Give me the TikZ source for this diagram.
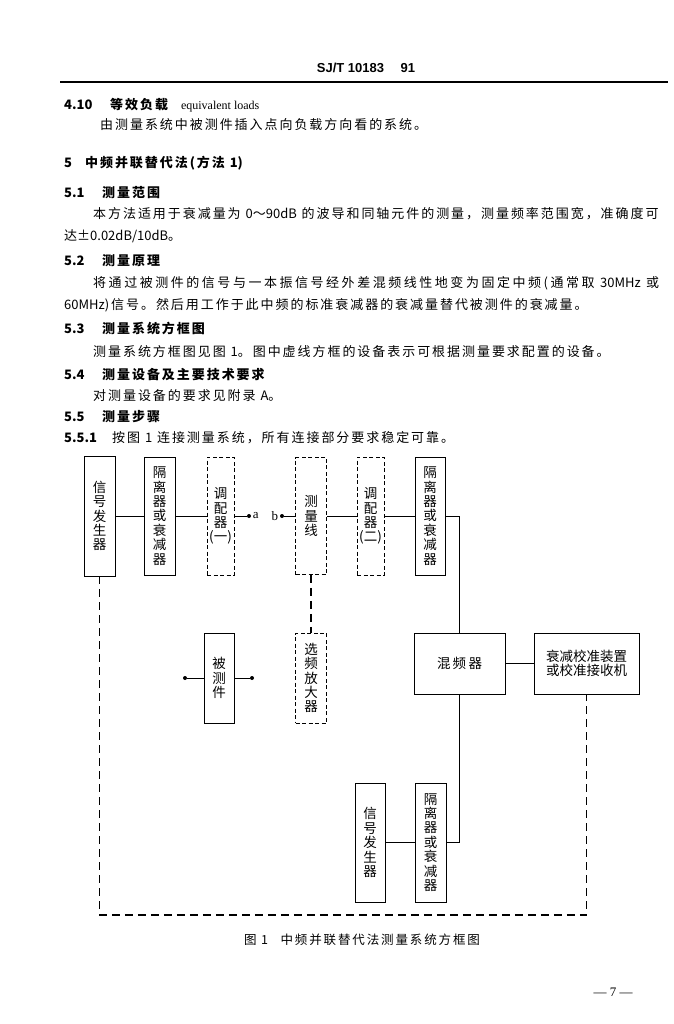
\documentclass[tikz,border=0pt]{standalone}
\usepackage{fontspec}
\setmainfont{Liberation Serif}
\newfontfamily\hei[LetterSpace=15]{Noto Sans CJK SC}
\newfontfamily\heiwide[LetterSpace=19.5]{Noto Sans CJK SC}
\newfontfamily\boxfont{Noto Sans CJK SC}
\newfontfamily\hdfont{Liberation Sans}
\newcommand\lat[1]{{\boxfont #1}}
\usetikzlibrary{positioning,calc}

\tikzset{
  box/.style={draw,line width=0.8pt,inner sep=0pt,align=center,
    font=\boxfont\fontsize{13.5}{14.4}\selectfont},
  optbox/.style={box,dash pattern=on 4pt off 2.5pt},
  link/.style={line width=0.8pt},
  optlink/.style={line width=1.1pt,dash pattern=on 8pt off 5pt},
  port/.style={circle,fill=black,inner sep=0pt,minimum size=4pt},
  txtline/.style={anchor=west,inner sep=0pt,font=\hei\fontsize{13}{15}\selectfont},
  headline/.style={txtline,font=\hei\bfseries\fontsize{13}{15}\selectfont}
}

\begin{document}
\begin{tikzpicture}[x=1pt,y=-1pt]
\useasboundingbox (0,0) rectangle (673,1024);

% page head
\node[font=\hdfont\bfseries\fontsize{13}{15}\selectfont] (hdr) at (366,68) {SJ/T 10183\quad\ 91};
\draw[line width=1.2pt] (60,82) -- (668,82);

% text
\node[headline] (n410) at (64,105) {\lat{4.10}};
\node[headline] (h410) at (110,105) {等效负载\quad{\rmfamily\mdseries\fontsize{12}{14}\selectfont equivalent loads}};
\node[txtline] (p410) at (100,125) {由测量系统中被测件插入点向负载方向看的系统。};
\node[headline] (n5) at (64,163) {\lat{5}\quad 中频并联替代法(方法 \lat{1})};
\node[headline] (n51) at (64,193) {\lat{5.1}};
\node[headline] (h51) at (102,193) {测量范围};
\node[txtline] (p51a) at (93,214) {本方法适用于衰减量为 \lat{0～90dB} 的波导和同轴元件的测量，测量频率范围宽，准确度可};
\node[txtline] (p51b) at (64,236) {达\lat{±0.02dB/10dB}。};
\node[headline] (n52) at (64,261) {\lat{5.2}};
\node[headline] (h52) at (102,261) {测量原理};
\node[txtline,font=\heiwide\fontsize{13}{15}\selectfont] (p52a) at (93,283) {将通过被测件的信号与一本振信号经外差混频线性地变为固定中频(通常取 \lat{30MHz} 或};
\node[txtline] (p52b) at (64,305) {\lat{60MHz})信号。然后用工作于此中频的标准衰减器的衰减量替代被测件的衰减量。};
\node[headline] (n53) at (64,329) {\lat{5.3}};
\node[headline] (h53) at (102,329) {测量系统方框图};
\node[txtline] (p53) at (93,352) {测量系统方框图见图 \lat{1}。图中虚线方框的设备表示可根据测量要求配置的设备。};
\node[headline] (n54) at (64,375) {\lat{5.4}};
\node[headline] (h54) at (102,375) {测量设备及主要技术要求};
\node[txtline] (p54) at (93,396) {对测量设备的要求见附录 \lat{A}。};
\node[headline] (n55) at (64,417) {\lat{5.5}};
\node[headline] (h55) at (102,417) {测量步骤};
\node[headline] (n551) at (64,438) {\lat{5.5.1}};
\node[txtline] (p551) at (112,438) {按图 \lat{1} 连接测量系统，所有连接部分要求稳定可靠。};

% diagram
\node[box,minimum width=31pt,minimum height=120pt] (sga) at (99.5,516) {信\\号\\发\\生\\器};
\node[box,minimum width=31pt,minimum height=118pt] (isoa) at (159.5,516) {隔\\离\\器\\或\\衰\\减\\器};
\node[optbox,minimum width=27pt,minimum height=118pt] (tuna) at (220.5,516) {调\\配\\器\\(一)};
\node[optbox,minimum width=31pt,minimum height=117pt] (mline) at (311,516) {测\\量\\线};
\node[optbox,minimum width=27pt,minimum height=118pt] (tunb) at (370.5,516) {调\\配\\器\\(二)};
\node[box,minimum width=30pt,minimum height=118pt] (isob) at (430,516) {隔\\离\\器\\或\\衰\\减\\器};

\node[port] (pa) at (249,516) {};
\node[right=1.5pt of pa,inner sep=0pt,font=\fontsize{13}{15}\selectfont] (la) {a};
\node[port] (pb) at (282,516) {};
\node[left=1.5pt of pb,inner sep=0pt,font=\fontsize{13}{15}\selectfont] (lb) {b};

\node[box,minimum width=30pt,minimum height=90pt] (dut) at (219,678) {被\\测\\件};
\node[port] (pc) at (185,678) {};
\node[port] (pd) at (252,678) {};
\node[optbox,minimum width=31pt,minimum height=90pt] (sel) at (311,678) {选\\频\\放\\大\\器};
\node[box,minimum width=91pt,minimum height=61pt] (mix) at (459.5,663.5) {混\,频\,器};
\node[box,minimum width=105pt,minimum height=61pt] (cal) at (586.5,663.5) {衰减校准装置\\或校准接收机};

\node[box,minimum width=30pt,minimum height=119pt] (sgb) at (370,842.5) {信\\号\\发\\生\\器};
\node[box,minimum width=31pt,minimum height=119pt] (isoc) at (430.5,842.5) {隔\\离\\器\\或\\衰\\减\\器};

\draw[link] (sga) -- (isoa);
\draw[link] (isoa) -- (tuna);
\draw[link] (tuna) -- (pa);
\draw[link] (pb) -- (mline);
\draw[link] (mline) -- (tunb);
\draw[link] (tunb) -- (isob);
\draw[link] (isob.east) -| (mix.north);
\draw[optlink] (mline.south) -- (sel.north);
\draw[link] (pc) -- (dut);
\draw[link] (dut) -- (pd);
\draw[link] (mix) -- (cal);
\draw[link] (mix.south) |- (isoc.east);
\draw[link] (sgb) -- (isoc);
\coordinate (loop) at (0,915);
\draw[optlink] (sga.south) -- (sga.south |- loop) -| (cal.south);

\node[font=\hei\fontsize{12.5}{14}\selectfont] (cap) at (362,940) {图 \lat{1}\quad 中频并联替代法测量系统方框图};
\node[font=\fontsize{13}{15}\selectfont] (pg) at (613,992) {— 7 —};
\end{tikzpicture}
\end{document}
